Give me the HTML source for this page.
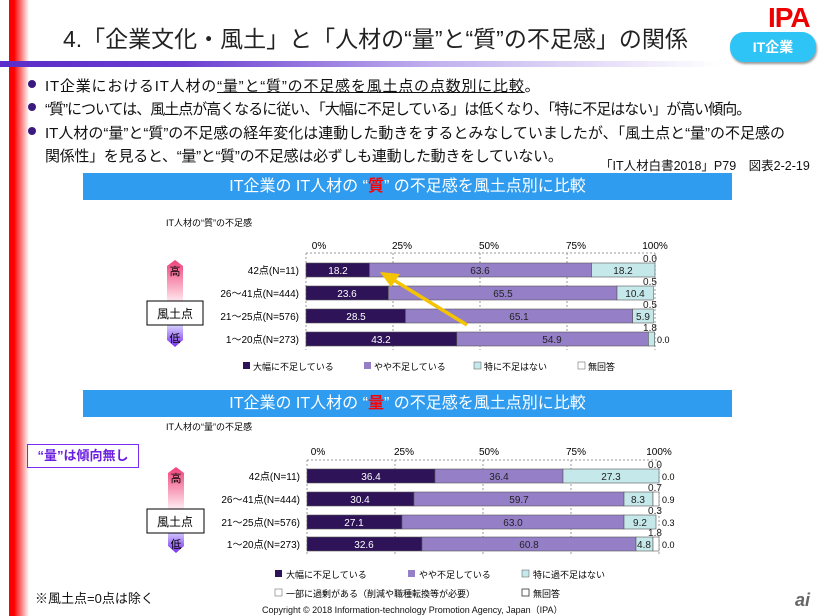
<!DOCTYPE html>
<html><head><meta charset="utf-8"><style>
body{margin:0;width:824px;height:616px;position:relative;background:#fff;overflow:hidden;font-family:"Liberation Sans","Noto Sans CJK JP",sans-serif;color:#111}
.a{position:absolute;white-space:nowrap}
.bl{position:absolute;left:83px;width:649px;height:27px;background:#2f9cf0;color:#fff;font-size:16px;text-align:center;line-height:27px}
.bul{position:absolute;left:28px;width:8px;height:8px;border-radius:50%;background:#3a1a80}
.t{font-size:15px}
</style></head><body>
<div class="a" style="left:9px;top:0;width:20px;height:616px;background:linear-gradient(90deg,#f00 0,#f00 25%,#fff 100%)"></div>
<div class="a" style="left:63px;top:20px;font-size:23px;color:#222">4.「企業文化・風土」と「人材の“量”と“質”の不足感」の関係</div>
<div class="a" style="left:0;top:61px;width:720px;height:6px;background:linear-gradient(90deg,#5a2ec8 0,#6a3ed0 25%,#c0b0ee 60%,#fff 100%)"></div>
<div class="a" style="left:768px;top:2px;font-size:28px;font-weight:bold;color:#e00;letter-spacing:-1px">IPA</div>
<div class="a" style="left:730px;top:32px;width:86px;height:30px;border-radius:14px;background:#2fc4f6;color:#fff;font-weight:bold;font-size:14px;text-align:center;line-height:30px;box-shadow:1px 2px 2px #999">IT企業</div>
<div class="bul" style="top:80px"></div><div class="a t" style="left:45px;top:75px;letter-spacing:0.8px">IT企業におけるIT人材の<u>“量”と“質”の不足感を風土点の点数別に比較</u>。</div>
<div class="bul" style="top:103px"></div><div class="a t" style="left:45px;top:98px;letter-spacing:-1px">“質”については、風土点が高くなるに従い、「大幅に不足している」は低くなり、「特に不足はない」が高い傾向。</div>
<div class="bul" style="top:127px"></div><div class="a t" style="left:45px;top:122px;letter-spacing:0">IT人材の“量”と“質”の不足感の経年変化は連動した動きをするとみなしていましたが、「風土点と“量”の不足感の</div>
<div class="a t" style="left:45px;top:145px;letter-spacing:-0.3px">関係性」を見ると、“量”と“質”の不足感は必ずしも連動した動きをしていない。</div>
<div class="a" style="left:600px;top:155px;font-size:12.5px">「IT人材白書2018」P79　図表2-2-19</div>
<div class="bl" style="top:173px">IT企業の IT人材の “<span style="color:#f00;font-weight:bold">質</span>” の不足感を風土点別に比較</div>
<div class="bl" style="top:390px">IT企業の IT人材の “<span style="color:#f00;font-weight:bold">量</span>” の不足感を風土点別に比較</div>
<div class="a" style="left:27px;top:444px;width:110px;height:22px;border:1.5px solid #7a2cf0;color:#6a1ee0;font-weight:bold;font-size:13px;text-align:center;line-height:22px">“量”は傾向無し</div>
<div class="a" style="left:35px;top:588px;font-size:13px;color:#111">※風土点=0点は除く</div>
<div class="a" style="left:262px;top:603px;font-size:9px">Copyright © 2018 Information-technology Promotion Agency, Japan（IPA）</div>
<div class="a" style="left:795px;top:590px;font-size:18px;font-style:italic;color:#666;font-weight:bold">ai</div>
<svg class="a" style="left:0;top:0" width="824" height="616" font-family="Liberation Sans,Noto Sans CJK JP,sans-serif">
<defs>
<linearGradient id="g" x1="0" y1="0" x2="0" y2="1"><stop offset="0" stop-color="#f0407a"/><stop offset="0.5" stop-color="#fff0f4"/><stop offset="0.7" stop-color="#e8f0ff"/><stop offset="1" stop-color="#7a30f0"/></linearGradient>
</defs>
<g id="c1" font-size="10">
<text x="166" y="226" font-size="9">IT人材の“質”の不足感</text>
<g text-anchor="middle" font-size="10"><text x="319" y="249">0%</text><text x="402" y="249">25%</text><text x="489" y="249">50%</text><text x="576" y="249">75%</text><text x="655" y="249">100%</text></g>
<g stroke="#999" stroke-dasharray="2,2"><line x1="306" y1="253" x2="306" y2="350"/><line x1="393" y1="253" x2="393" y2="350"/><line x1="480" y1="253" x2="480" y2="350"/><line x1="567" y1="253" x2="567" y2="350"/><line x1="655" y1="253" x2="655" y2="350"/></g>
<line x1="306" y1="253" x2="655" y2="253" stroke="#999" stroke-dasharray="2,2"/>
<g stroke="#555" stroke-width="0.6">
<rect x="306" y="263" width="63.5" height="14" fill="#2e1358"/><rect x="369.5" y="263" width="222" height="14" fill="#9580c8"/><rect x="591.5" y="263" width="63.5" height="14" fill="#c5e8ea"/>
<rect x="306" y="286" width="82.4" height="14" fill="#2e1358"/><rect x="388.4" y="286" width="228.6" height="14" fill="#9580c8"/><rect x="617" y="286" width="36.3" height="14" fill="#c5e8ea"/>
<rect x="306" y="309" width="99.5" height="14" fill="#2e1358"/><rect x="405.5" y="309" width="227.2" height="14" fill="#9580c8"/><rect x="632.7" y="309" width="20.6" height="14" fill="#c5e8ea"/>
<rect x="306" y="332" width="150.8" height="14" fill="#2e1358"/><rect x="456.8" y="332" width="191.6" height="14" fill="#9580c8"/><rect x="648.4" y="332" width="6.3" height="14" fill="#c5e8ea"/>
</g>
<g fill="#fff" text-anchor="middle"><text x="338" y="274">18.2</text><text x="347" y="297">23.6</text><text x="356" y="320">28.5</text><text x="381" y="343">43.2</text></g>
<g fill="#222" text-anchor="middle"><text x="480" y="274">63.6</text><text x="503" y="297">65.5</text><text x="519" y="320">65.1</text><text x="552" y="343">54.9</text><text x="623" y="274">18.2</text><text x="635" y="297">10.4</text><text x="643" y="320">5.9</text>
<text x="650" y="262">0.0</text><text x="650" y="285">0.5</text><text x="650" y="308">0.5</text><text x="650" y="331">1.8</text></g>
<text x="657" y="343" font-size="9">0.0</text>
<g text-anchor="end" font-size="10"><text x="299" y="274">42点(N=11)</text><text x="299" y="297">26～41点(N=444)</text><text x="299" y="320">21～25点(N=576)</text><text x="299" y="343">1～20点(N=273)</text></g>
<line x1="467" y1="325" x2="392" y2="279" stroke="#f5c400" stroke-width="3.5"/><polygon points="380,272 400,274 391,287" fill="#f5c400"/>
<g font-size="9"><rect x="243" y="362" width="7" height="7" fill="#2e1358"/><text x="253" y="370">大幅に不足している</text>
<rect x="364" y="362" width="7" height="7" fill="#9580c8"/><text x="374" y="370">やや不足している</text>
<rect x="474" y="362" width="7" height="7" fill="#c5e8ea" stroke="#555" stroke-width="0.5"/><text x="484" y="370">特に不足はない</text>
<rect x="578" y="362" width="7" height="7" fill="#fff" stroke="#555" stroke-width="0.5"/><text x="588" y="370">無回答</text></g>
<polygon points="175,260 183,266 183,340 175,347 167,340 167,266" fill="url(#g)"/>
<text x="175" y="275" text-anchor="middle" font-size="11">高</text><text x="175" y="342" text-anchor="middle" font-size="11">低</text>
<rect x="147" y="301" width="56" height="24" fill="#fff" stroke="#000"/><text x="175" y="318" text-anchor="middle" font-size="12">風土点</text>
</g>
<g font-size="10">
<text x="166" y="430" font-size="9">IT人材の“量”の不足感</text>
<g text-anchor="middle"><text x="318" y="455">0%</text><text x="404" y="455">25%</text><text x="489" y="455">50%</text><text x="576" y="455">75%</text><text x="659" y="455">100%</text></g>
<g stroke="#999" stroke-dasharray="2,2"><line x1="307" y1="460" x2="659" y2="460"/><line x1="307" y1="460" x2="307" y2="556"/><line x1="395" y1="460" x2="395" y2="556"/><line x1="483" y1="460" x2="483" y2="556"/><line x1="571" y1="460" x2="571" y2="556"/><line x1="659" y1="460" x2="659" y2="556"/></g>
<g stroke="#555" stroke-width="0.6">
<rect x="307" y="469" width="128" height="14" fill="#2e1358"/><rect x="435" y="469" width="128" height="14" fill="#9580c8"/><rect x="563" y="469" width="96" height="14" fill="#c5e8ea"/>
<rect x="307" y="492" width="107" height="14" fill="#2e1358"/><rect x="414" y="492" width="210" height="14" fill="#9580c8"/><rect x="624" y="492" width="29" height="14" fill="#c5e8ea"/><rect x="653" y="492" width="6" height="14" fill="#fff"/>
<rect x="307" y="515" width="95" height="14" fill="#2e1358"/><rect x="402" y="515" width="222" height="14" fill="#9580c8"/><rect x="624" y="515" width="32" height="14" fill="#c5e8ea"/>
<rect x="307" y="537" width="115" height="14" fill="#2e1358"/><rect x="422" y="537" width="214" height="14" fill="#9580c8"/><rect x="636" y="537" width="17" height="14" fill="#c5e8ea"/><rect x="653" y="537" width="6" height="14" fill="#fff"/>
</g>
<g fill="#fff" text-anchor="middle"><text x="371" y="480">36.4</text><text x="360" y="503">30.4</text><text x="354" y="526">27.1</text><text x="364" y="548">32.6</text></g>
<g fill="#222" text-anchor="middle"><text x="499" y="480">36.4</text><text x="519" y="503">59.7</text><text x="513" y="526">63.0</text><text x="529" y="548">60.8</text><text x="611" y="480">27.3</text><text x="638" y="503">8.3</text><text x="640" y="526">9.2</text><text x="644" y="548">4.8</text>
<text x="655" y="468">0.0</text><text x="655" y="491">0.7</text><text x="655" y="514">0.3</text><text x="655" y="536">1.8</text></g>
<g font-size="9"><text x="662" y="480">0.0</text><text x="662" y="503">0.9</text><text x="662" y="526">0.3</text><text x="662" y="548">0.0</text></g>
<g text-anchor="end"><text x="300" y="480">42点(N=11)</text><text x="300" y="503">26～41点(N=444)</text><text x="300" y="526">21～25点(N=576)</text><text x="300" y="548">1～20点(N=273)</text></g>
<g font-size="9"><rect x="275" y="570" width="7" height="7" fill="#2e1358"/><text x="286" y="578">大幅に不足している</text>
<rect x="408" y="570" width="7" height="7" fill="#9580c8"/><text x="419" y="578">やや不足している</text>
<rect x="522" y="570" width="7" height="7" fill="#c5e8ea" stroke="#555" stroke-width="0.5"/><text x="533" y="578">特に過不足はない</text>
<rect x="275" y="589" width="7" height="7" fill="#fff" stroke="#555" stroke-width="0.5"/><text x="286" y="597">一部に過剰がある（削減や職種転換等が必要）</text>
<rect x="522" y="589" width="7" height="7" fill="#fff" stroke="#333" stroke-width="0.8"/><text x="533" y="597">無回答</text></g>
<polygon points="176,467 184,473 184,546 176,553 168,546 168,473" fill="url(#g)"/>
<text x="176" y="482" text-anchor="middle" font-size="11">高</text><text x="176" y="548" text-anchor="middle" font-size="11">低</text>
<rect x="147" y="509" width="57" height="24" fill="#fff" stroke="#000"/><text x="175" y="526" text-anchor="middle" font-size="12">風土点</text>
</g>
</svg>
</body></html>
